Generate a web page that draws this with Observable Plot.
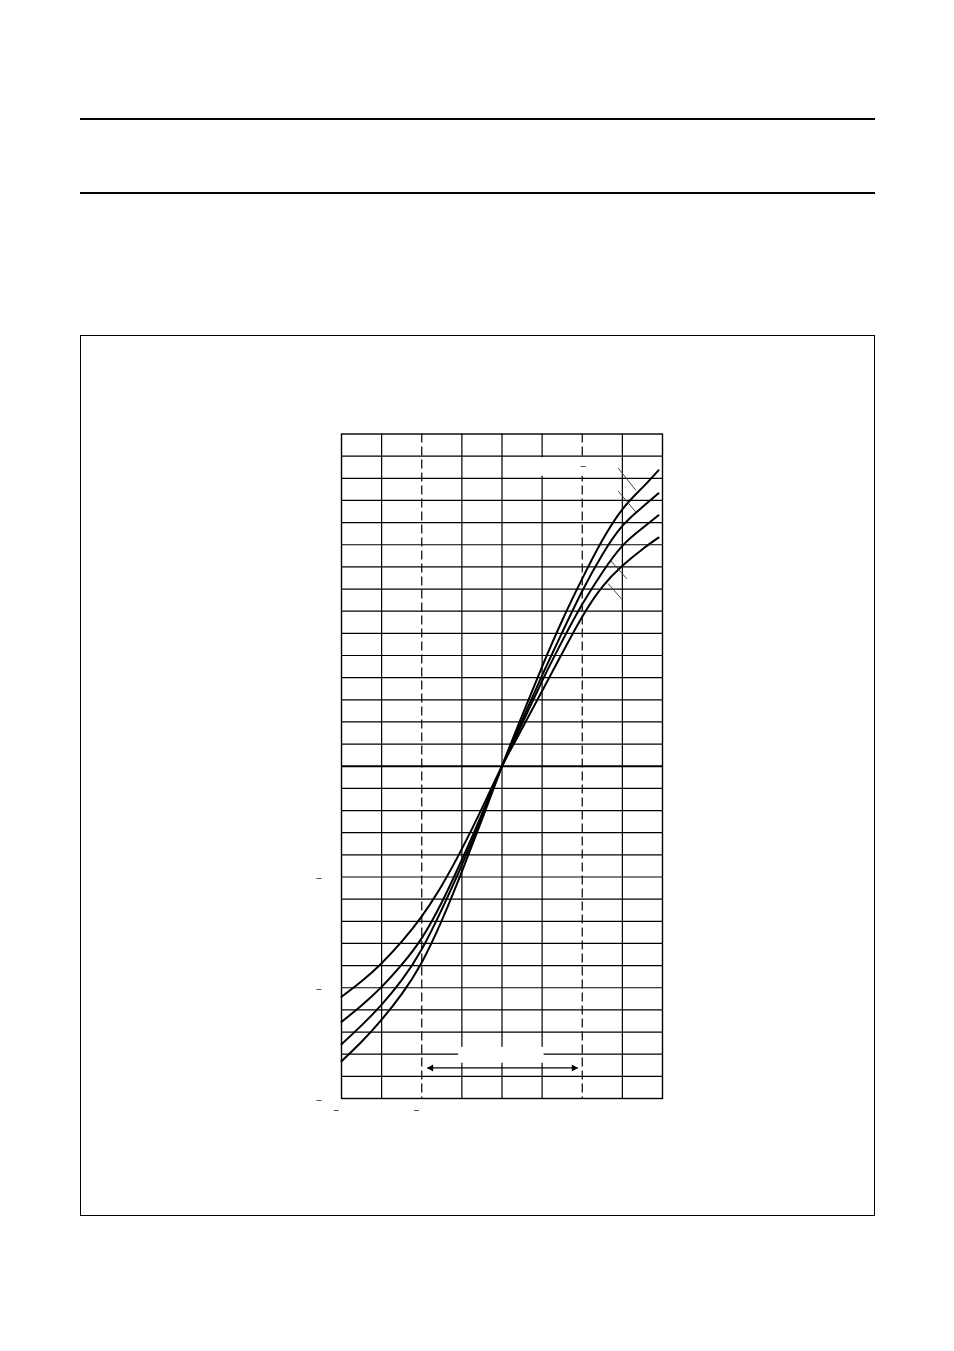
<!DOCTYPE html>
<html><head><meta charset="utf-8">
<script src="https://cdn.jsdelivr.net/npm/d3@7"></script>
<script src="https://cdn.jsdelivr.net/npm/@observablehq/plot@0.6"></script>
<style>
body{margin:0;background:#fff;}
#page{position:relative;width:954px;height:1351px;overflow:hidden;background:#fff;}
.hr{position:absolute;left:80px;width:795px;height:2px;background:#000;}
#box{position:absolute;left:80px;top:335px;width:793px;height:879px;border:1px solid #000;}
#chart{position:absolute;left:0;top:0;will-change:transform;}
</style></head><body>
<div id="page">
<div class="hr" style="top:118px"></div>
<div class="hr" style="top:192px"></div>
<div id="box"></div>
<div id="chart"></div>
</div>
<script>
// ---- data ----
const xValues = [-4,-3.5,-3,-2.5,-2,-1.5,-1,-0.5,0,0.5,1,1.5,2,2.5,3,3.5,3.9];
const curveA = [-1.332,-1.244,-1.144,-1.029,-0.886,-0.696,-0.476,-0.241,0,0.228,0.45,0.658,0.847,1.02,1.16,1.258,1.336];
const curveB = [-1.255,-1.17,-1.076,-0.966,-0.826,-0.646,-0.446,-0.228,0,0.207,0.41,0.604,0.791,0.955,1.085,1.17,1.232];
const curveC = [-1.154,-1.08,-0.996,-0.896,-0.776,-0.614,-0.422,-0.215,0,0.192,0.385,0.565,0.731,0.875,0.995,1.075,1.133];
const curveD = [-1.041,-0.971,-0.889,-0.792,-0.678,-0.538,-0.373,-0.19,0,0.17,0.34,0.51,0.675,0.81,0.905,0.98,1.032];
const seriesNames = ["A","B","C","D"];

// grid
const xGridSolid = [-3,-1,0,1,3];
const xGridDashed = [-2,2];
const yGrid = [-1.4,-1.3,-1.2,-1.1,-1.0,-0.9,-0.8,-0.7,-0.6,-0.5,-0.4,-0.3,-0.2,-0.1,
               0.1,0.2,0.3,0.4,0.5,0.6,0.7,0.8,0.9,1.0,1.1,1.2,1.3,1.4];
const yZero = [0];

// tick labels (only the minus signs are visible in the reference)
const yTickValues = [-1.5,-1.0,-0.5];
const yTickLabels = ["−","−","−"];
const xTickValues = [-4,-2];
const xTickLabels = ["−","−"];

// annotations
const leaderX1 = [2.893,2.893,2.711,2.644];
const leaderY1 = [1.347,1.243,0.927,0.825];
const leaderX2 = [3.333,3.333,3.109,3.010];
const leaderY2 = [1.246,1.148,0.847,0.749];
const labelBoxX1 = [0.30,-1.08];
const labelBoxX2 = [2.80,1.05];
const labelBoxY1 = [1.309,-1.341];
const labelBoxY2 = [1.393,-1.269];
const labelTextX = [2.03];
const labelTextY = [1.35];
const labelText = ["−"];
const rangeArrowX = [-1.866,1.89];
const rangeArrowY = -1.362;

// ---- build tables ----
const curves = [curveA,curveB,curveC,curveD];
const rows = [];
curves.forEach((c,i)=>c.forEach((v,j)=>rows.push({series:seriesNames[i],x:xValues[j],y:v})));
const leaders = leaderX1.map((d,i)=>({x1:d,y1:leaderY1[i],x2:leaderX2[i],y2:leaderY2[i]}));
const boxes = labelBoxX1.map((d,i)=>({x1:d,x2:labelBoxX2[i],y1:labelBoxY1[i],y2:labelBoxY2[i]}));
const labels = labelTextX.map((d,i)=>({x:d,y:labelTextY[i],t:labelText[i]}));
const shaft = [{x1:rangeArrowX[0],x2:rangeArrowX[1],y:rangeArrowY}];

const font = '"Liberation Sans", Arial, sans-serif';
const plot = Plot.plot({
  width:954, height:1351,
  marginLeft:341, marginRight:292, marginTop:433.5, marginBottom:253,
  x:{domain:[-4,4], label:null},
  y:{domain:[-1.5,1.5], label:null},
  style:{fontFamily:font, fontSize:"10px", background:"transparent", overflow:"visible"},
  marks:[
    Plot.ruleX(xGridSolid,{stroke:"#000",strokeWidth:1.2}),
    Plot.ruleX(xGridDashed,{stroke:"#000",strokeWidth:1.2,strokeDasharray:"9,4"}),
    Plot.ruleY(yGrid,{stroke:"#000",strokeWidth:1.2}),
    Plot.ruleY(yZero,{stroke:"#000",strokeWidth:2}),
    Plot.rect(boxes,{x1:"x1",x2:"x2",y1:"y1",y2:"y2",fill:"white"}),
    Plot.frame({stroke:"#000",strokeWidth:1.4}),
    Plot.line(rows,{x:"x",y:"y",z:"series",stroke:"#000",strokeWidth:2,curve:"natural"}),
    Plot.link(leaders,{x1:"x1",y1:"y1",x2:"x2",y2:"y2",stroke:"#444",strokeWidth:1}),
    Plot.link(shaft,{x1:"x1",x2:"x2",y1:"y",y2:"y",stroke:"#000",strokeWidth:1.2}),
    Plot.dot([shaft[0]],{x:"x1",y:"y",symbol:"triangle",rotate:-90,r:2.6,fill:"#000",stroke:"none",dx:4}),
    Plot.dot([shaft[0]],{x:"x2",y:"y",symbol:"triangle",rotate:90,r:2.6,fill:"#000",stroke:"none",dx:-4}),
    Plot.text(labels,{x:"x",y:"y",text:"t",fontSize:10,fill:"#000"}),
    Plot.axisY(yTickValues,{tickSize:0,tickPadding:19.5,dy:2,tickFormat:(d,i)=>yTickLabels[i],fontSize:10,fill:"#000"}),
    Plot.axisX(xTickValues,{tickSize:0,tickPadding:8,dx:-5,tickFormat:(d,i)=>xTickLabels[i],fontSize:10,fill:"#000"})
  ]
});
document.getElementById("chart").appendChild(plot);
</script>
</body></html>
